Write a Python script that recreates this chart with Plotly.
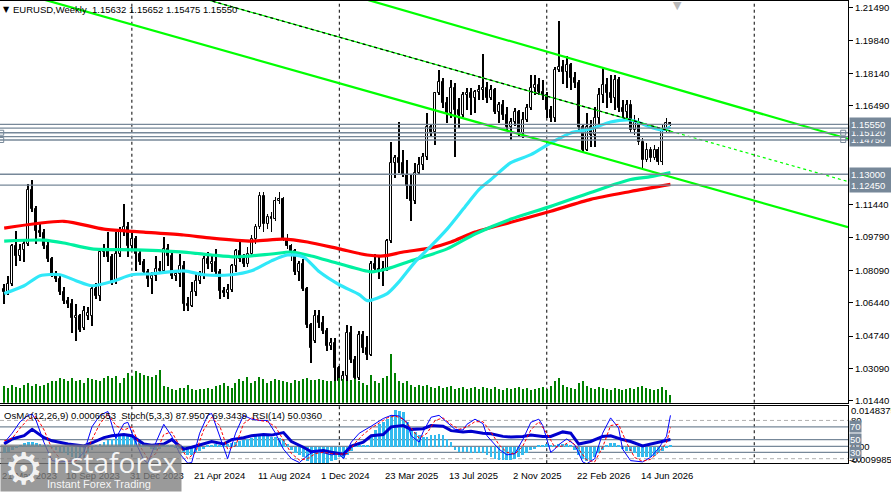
import plotly.graph_objects as go

# ---------------- data ----------------
title_text = "EURUSD,Weekly\u00a0\u00a01.15632 1.15652 1.15475 1.15550"
osc_text = "OsMA(12,26,9) 0.0006653\u00a0\u00a0Stoch(5,3,3) 87.9507 69.3439\u00a0\u00a0RSI(14) 50.0360"

opens = [
    1.0716, 1.0701, 1.0741, 1.0934, 1.0883, 1.0914, 1.0944, 1.1222, 1.1121, 1.1010,
    1.1000, 1.0934, 1.0868, 1.0792, 1.0767, 1.0701, 1.0655, 1.0640, 1.0564, 1.0579,
    1.0514, 1.0574, 1.0579, 1.0716, 1.0681, 1.0903, 1.0919, 1.0878, 1.0752, 1.0893,
    1.1010, 1.1030, 1.0934, 1.0969, 1.0893, 1.0853, 1.0802, 1.0767, 1.0782, 1.0817,
    1.0807, 1.0919, 1.0883, 1.0782, 1.0792, 1.0833, 1.0640, 1.0630, 1.0701, 1.0757,
    1.0782, 1.0868, 1.0843, 1.0853, 1.0802, 1.0706, 1.0696, 1.0711, 1.0833, 1.0908,
    1.0868, 1.0843, 1.0893, 1.0969, 1.1030, 1.1187, 1.1045, 1.1081, 1.1071, 1.1162,
    1.1172, 1.0969, 1.0934, 1.0908, 1.0802, 1.0843, 1.0716, 1.0529, 1.0448, 1.0574,
    1.0539, 1.0498, 1.0422, 1.0438, 1.0311, 1.0245, 1.0271, 1.0488, 1.0351, 1.0260,
    1.0478, 1.0412, 1.0377, 1.0843, 1.0817, 1.0807, 1.0817, 1.0959, 1.1359, 1.1384,
    1.1359, 1.1298, 1.1238, 1.1162, 1.1308, 1.1349, 1.1389, 1.1541, 1.1516, 1.1713,
    1.1769, 1.1663, 1.1612, 1.1739, 1.1627, 1.1602, 1.1703, 1.1713, 1.1688, 1.1719,
    1.1729, 1.1739, 1.1688, 1.1729, 1.1617, 1.1653, 1.1602, 1.1541, 1.1567, 1.1617,
    1.1511, 1.1577, 1.1638, 1.1739, 1.1754, 1.1719, 1.1703, 1.1627, 1.1587, 1.1830,
    1.1850, 1.1820, 1.1860, 1.1789, 1.1764, 1.1541, 1.1425, 1.1541, 1.1501, 1.1587,
    1.1703, 1.1754, 1.1713, 1.1688, 1.1779, 1.1638, 1.1617, 1.1653, 1.1526, 1.1567,
    1.1465, 1.1374, 1.1425, 1.1384, 1.1425, 1.1364, 1.1526, 1.15632,
]
highs = [
    1.0741, 1.0782, 1.0944, 1.1010, 1.0944, 1.0969, 1.1248, 1.1273, 1.1136, 1.1045,
    1.1020, 1.0954, 1.0878, 1.0807, 1.0787, 1.0726, 1.0676, 1.0665, 1.0640, 1.0589,
    1.0630, 1.0625, 1.0736, 1.0746, 1.0919, 1.0944, 1.1005, 1.0893, 1.1005, 1.1030,
    1.1146, 1.1055, 1.1010, 1.0984, 1.0919, 1.0868, 1.0817, 1.0802, 1.0883, 1.0858,
    1.0979, 1.0944, 1.0903, 1.0807, 1.0893, 1.0858, 1.0676, 1.0752, 1.0802, 1.0807,
    1.0883, 1.0903, 1.0883, 1.0919, 1.0817, 1.0726, 1.0741, 1.0843, 1.0919, 1.0954,
    1.0893, 1.0929, 1.0990, 1.1045, 1.1207, 1.1207, 1.1096, 1.1106, 1.1182, 1.1212,
    1.1182, 1.0995, 1.0944, 1.0919, 1.0858, 1.0868, 1.0726, 1.0539, 1.0605, 1.0605,
    1.0574, 1.0514, 1.0463, 1.0463, 1.0321, 1.0296, 1.0529, 1.0524, 1.0372, 1.0498,
    1.0498, 1.0473, 1.0858, 1.0893, 1.0878, 1.0858, 1.0969, 1.1465, 1.1400, 1.1567,
    1.1425, 1.1374, 1.1298, 1.1359, 1.1389, 1.1410, 1.1612, 1.1552, 1.1719, 1.1830,
    1.1789, 1.1693, 1.1779, 1.1764, 1.1688, 1.1719, 1.1739, 1.1739, 1.1729, 1.1754,
    1.1916, 1.1769, 1.1754, 1.1739, 1.1668, 1.1678, 1.1643, 1.1587, 1.1638, 1.1627,
    1.1617, 1.1658, 1.1805, 1.1805, 1.1789, 1.1779, 1.1719, 1.1648, 1.1845, 1.2083,
    1.1881, 1.1906, 1.1870, 1.1820, 1.1779, 1.1552, 1.1612, 1.1577, 1.1643, 1.1739,
    1.1845, 1.1789, 1.1805, 1.1805, 1.1794, 1.1678, 1.1678, 1.1678, 1.1602, 1.1587,
    1.1486, 1.1460, 1.1440, 1.1450, 1.1440, 1.1552, 1.1587, 1.15652,
]
lows = [
    1.0640, 1.0686, 1.0731, 1.0833, 1.0858, 1.0853, 1.0934, 1.1106, 1.0944, 1.0979,
    1.0919, 1.0853, 1.0777, 1.0752, 1.0686, 1.0640, 1.0615, 1.0488, 1.0448, 1.0493,
    1.0503, 1.0554, 1.0524, 1.0665, 1.0655, 1.0878, 1.0853, 1.0736, 1.0741, 1.0878,
    1.0984, 1.0878, 1.0908, 1.0807, 1.0838, 1.0787, 1.0726, 1.0691, 1.0757, 1.0792,
    1.0797, 1.0833, 1.0767, 1.0757, 1.0726, 1.0600, 1.0600, 1.0620, 1.0681, 1.0741,
    1.0767, 1.0817, 1.0802, 1.0792, 1.0665, 1.0671, 1.0665, 1.0701, 1.0802, 1.0853,
    1.0827, 1.0827, 1.0878, 1.0944, 1.1020, 1.1005, 1.1020, 1.1005, 1.1060, 1.1146,
    1.0959, 1.0919, 1.0858, 1.0787, 1.0757, 1.0706, 1.0514, 1.0336, 1.0438, 1.0514,
    1.0483, 1.0397, 1.0402, 1.0245, 1.0225, 1.0225, 1.0245, 1.0336, 1.0235, 1.0250,
    1.0387, 1.0351, 1.0372, 1.0802, 1.0767, 1.0731, 1.0807, 1.0949, 1.1283, 1.1308,
    1.1288, 1.1172, 1.1060, 1.1146, 1.1298, 1.1324, 1.1374, 1.1491, 1.1450, 1.1703,
    1.1638, 1.1562, 1.1587, 1.1389, 1.1536, 1.1592, 1.1627, 1.1602, 1.1612, 1.1678,
    1.1678, 1.1663, 1.1678, 1.1607, 1.1562, 1.1577, 1.1526, 1.1476, 1.1546, 1.1496,
    1.1486, 1.1567, 1.1627, 1.1703, 1.1703, 1.1678, 1.1587, 1.1567, 1.1567, 1.1820,
    1.1759, 1.1739, 1.1729, 1.1739, 1.1526, 1.1410, 1.1420, 1.1440, 1.1440, 1.1541,
    1.1663, 1.1638, 1.1663, 1.1627, 1.1617, 1.1587, 1.1587, 1.1511, 1.1501, 1.1450,
    1.1334, 1.1364, 1.1364, 1.1374, 1.1349, 1.1349, 1.1516, 1.15475,
]
closes = [
    1.0701, 1.0741, 1.0934, 1.0883, 1.0914, 1.0944, 1.1222, 1.1121, 1.1010, 1.1000,
    1.0934, 1.0868, 1.0792, 1.0767, 1.0701, 1.0655, 1.0640, 1.0564, 1.0579, 1.0503,
    1.0600, 1.0594, 1.0716, 1.0681, 1.0903, 1.0919, 1.0878, 1.0752, 1.0893, 1.1010,
    1.1030, 1.0934, 1.0969, 1.0893, 1.0853, 1.0802, 1.0767, 1.0782, 1.0817, 1.0807,
    1.0919, 1.0883, 1.0782, 1.0792, 1.0833, 1.0640, 1.0630, 1.0701, 1.0757, 1.0782,
    1.0868, 1.0843, 1.0853, 1.0802, 1.0706, 1.0696, 1.0711, 1.0833, 1.0908, 1.0868,
    1.0843, 1.0893, 1.0969, 1.1030, 1.1187, 1.1045, 1.1081, 1.1071, 1.1162, 1.1172,
    1.0969, 1.0934, 1.0908, 1.0802, 1.0843, 1.0716, 1.0529, 1.0412, 1.0574, 1.0539,
    1.0498, 1.0422, 1.0438, 1.0311, 1.0245, 1.0271, 1.0488, 1.0351, 1.0260, 1.0478,
    1.0412, 1.0377, 1.0843, 1.0817, 1.0807, 1.0817, 1.0959, 1.1359, 1.1384, 1.1359,
    1.1298, 1.1238, 1.1162, 1.1308, 1.1349, 1.1389, 1.1541, 1.1516, 1.1713, 1.1769,
    1.1663, 1.1612, 1.1739, 1.1627, 1.1602, 1.1703, 1.1713, 1.1688, 1.1719, 1.1729,
    1.1739, 1.1688, 1.1729, 1.1617, 1.1653, 1.1602, 1.1541, 1.1567, 1.1617, 1.1511,
    1.1577, 1.1638, 1.1739, 1.1754, 1.1719, 1.1703, 1.1627, 1.1587, 1.1830, 1.1850,
    1.1820, 1.1860, 1.1789, 1.1764, 1.1541, 1.1425, 1.1541, 1.1501, 1.1587, 1.1703,
    1.1754, 1.1713, 1.1688, 1.1779, 1.1638, 1.1617, 1.1653, 1.1526, 1.1567, 1.1465,
    1.1374, 1.1425, 1.1384, 1.1425, 1.1364, 1.1526, 1.1562, 1.15550,
]
volumes = [
    170, 150, 180, 160, 150, 180, 200, 170, 190, 170,
    180, 200, 220, 220, 250, 240, 220, 250, 220, 230,
    200, 250, 240, 230, 220, 250, 270, 250, 270, 200,
    250, 300, 270, 320, 300, 280, 270, 260, 280, 330,
    170, 160, 140, 130, 150, 150, 180, 140, 130, 140,
    140, 150, 140, 170, 180, 200, 170, 150, 200, 240,
    220, 260, 200, 220, 260, 240, 200, 220, 240, 230,
    220, 210, 200, 230, 220, 240, 250, 230, 230, 240,
    230, 220, 220, 220, 250, 240, 220, 230, 240, 220,
    200, 180, 280, 220, 200, 250, 270, 490, 300, 220,
    200, 220, 180, 160, 180, 170, 180, 160, 150, 170,
    150, 160, 170, 140, 150, 160, 140, 150, 160, 140,
    160, 150, 140, 160, 140, 130, 150, 140, 150, 160,
    140, 150, 130, 140, 150, 160, 140, 170, 220, 250,
    180, 160, 150, 140, 200, 220, 170, 150, 140, 160,
    150, 140, 130, 150, 140, 130, 140, 150, 140, 160,
    170, 150, 140, 130, 140, 160, 130, 80,
]
osma = [
    -0.0026, -0.0022, -0.0013, -0.0004, 0.0009, 0.0017, 0.0022, 0.0022, 0.0017, 0.0013,
    0.0009, 0.0004, -0.0004, -0.0013, -0.0022, -0.0030, -0.0035, -0.0044, -0.0052, -0.0052,
    -0.0048, -0.0030, -0.0013, 0.0004, 0.0013, 0.0022, 0.0030, 0.0035, 0.0044, 0.0048,
    0.0052, 0.0048, 0.0044, 0.0035, 0.0022, 0.0013, 0.0004, -0.0009, -0.0013, -0.0009,
    0.0004, 0.0009, 0.0004, -0.0004, -0.0009, -0.0022, -0.0035, -0.0035, -0.0026, -0.0017,
    -0.0009, 0.0004, 0.0009, 0.0013, 0.0009, 0.0009, 0.0013, 0.0017, 0.0022, 0.0026,
    0.0030, 0.0035, 0.0039, 0.0048, 0.0052, 0.0052, 0.0048, 0.0044, 0.0044, 0.0039,
    0.0030, 0.0013, -0.0013, -0.0026, -0.0035, -0.0044, -0.0061, -0.0078, -0.0087, -0.0087,
    -0.0078, -0.0070, -0.0065, -0.0057, -0.0044, -0.0048, -0.0035, -0.0017, 0.0009, 0.0004,
    0.0009, 0.0004, 0.0044, 0.0074, 0.0100, 0.0109, 0.0122, 0.0139, 0.0161, 0.0157,
    0.0152, 0.0109, 0.0078, 0.0065, 0.0052, 0.0044, 0.0044, 0.0052, 0.0052, 0.0057,
    0.0052, 0.0035, 0.0022, -0.0013, -0.0022, -0.0022, -0.0022, -0.0026, -0.0030, -0.0030,
    -0.0030, -0.0035, -0.0044, -0.0052, -0.0057, -0.0057, -0.0057, -0.0057, -0.0052, -0.0044,
    -0.0035, -0.0030, -0.0013, -0.0009, 0.0009, 0.0009, 0.0013, 0.0009, 0.0009, 0.0013,
    0.0013, 0.0013, 0.0009, -0.0013, -0.0035, -0.0052, -0.0061, -0.0057, -0.0044, -0.0030,
    -0.0013, 0.0009, 0.0017, 0.0017, 0.0009, -0.0009, -0.0017, -0.0017, -0.0030, -0.0044,
    -0.0044, -0.0044, -0.0044, -0.0039, -0.0030, -0.0017, -0.0004, 0.0007,
]
bars = list(range(len(closes)))

# moving averages, read at sample bars
ma_red_bars = [0, 15, 25, 35, 45, 52, 62, 70, 76, 84, 91, 95, 100, 107, 112, 118, 127, 137, 147, 157, 167]
ma_red_vals = [1.1025, 1.1060, 1.1020, 1.1005, 1.0990, 1.0974, 1.0959, 1.0969, 1.0954, 1.0919, 1.0888,
               1.0883, 1.0903, 1.0924, 1.0954, 1.1005, 1.1055, 1.1111, 1.1172, 1.1212, 1.1248]
ma_green_bars = [0, 10, 15, 22, 33, 45, 52, 58, 67, 72, 77, 84, 92, 96, 102, 111, 118, 127, 137, 147, 157, 162, 167]
ma_green_vals = [1.0959, 1.0964, 1.0949, 1.0919, 1.0914, 1.0903, 1.0888, 1.0878, 1.0893, 1.0903, 1.0883, 1.0843,
                 1.0802, 1.0817, 1.0858, 1.0919, 1.0995, 1.1071, 1.1136, 1.1207, 1.1273, 1.1288, 1.1308]
ma_cyan_bars = [0, 5, 9, 14, 18, 22, 27, 32, 37, 45, 50, 57, 62, 67, 71, 75, 79, 84, 89, 91, 96, 99, 103,
                107, 111, 115, 119, 122, 127, 132, 137, 142, 147, 152, 157, 162, 165, 167]
ma_cyan_vals = [1.0691, 1.0731, 1.0782, 1.0787, 1.0757, 1.0731, 1.0752, 1.0787, 1.0792, 1.0807, 1.0787, 1.0787,
                1.0807, 1.0858, 1.0888, 1.0878, 1.0802, 1.0736, 1.0686, 1.0655, 1.0691, 1.0752, 1.0853,
                1.0934, 1.1020, 1.1121, 1.1222, 1.1273, 1.1359, 1.1400, 1.1460, 1.1511, 1.1531, 1.1567,
                1.1577, 1.1541, 1.1526, 1.1541]

# oscillators
stoch_bars = [0, 2, 4, 6, 7, 8, 10, 12, 14, 16, 18, 20, 22, 24, 26, 28, 30, 31, 33, 35, 36, 38, 40, 42, 44,
              46, 47, 49, 51, 52, 54, 56, 58, 60, 62, 64, 66, 68, 70, 72, 74, 76, 78, 80, 82, 84, 85, 87, 89,
              92, 95, 97, 99, 101, 102, 104, 105, 107, 109, 111, 113, 115, 116, 118, 120, 121, 124, 126, 128,
              130, 132, 134, 135, 137, 138, 139, 141, 143, 145, 146, 148, 150, 152, 154, 155, 157, 160, 162,
              164, 166, 167]
stoch_main = [45, 60, 78, 88, 90, 80, 45, 17, 15, 16, 17, 30, 70, 88, 94, 52, 75, 77, 45, 18, 13, 45, 74, 55, 28,
              13, 14, 60, 88, 91, 55, 20, 60, 88, 82, 80, 80, 60, 35, 20, 14, 25, 33, 30, 26, 28, 20, 46, 60,
              71, 83, 88, 87, 77, 56, 46, 62, 85, 88, 77, 66, 65, 74, 82, 75, 56, 35, 26, 28,
              50, 77, 82, 72, 30, 35, 42, 51, 42, 15, 12, 20, 60, 84, 68, 35, 17, 15, 22,
              36, 55, 88]
signal_bars = [0, 2, 4, 6, 8, 10, 12, 14, 16, 18, 20, 22, 24, 26, 28, 30, 32, 34, 36, 38, 40, 42, 44, 46, 48,
               50, 52, 54, 56, 58, 60, 62, 64, 66, 68, 70, 72, 74, 76, 78, 80, 82, 84, 86, 88, 90, 92, 94, 96,
               98, 100, 102, 104, 106, 108, 110, 112, 114, 116, 118, 120, 122, 124, 126, 128, 130, 132, 134,
               136, 138, 140, 142, 144, 146, 148, 150, 152, 154, 156, 158, 160, 162, 164, 166, 167]
stoch_signal = [48, 52, 68, 82, 86, 65, 35, 20, 16, 17, 22, 50, 75, 90, 72, 65, 70, 40, 20, 28, 58, 62, 40, 20, 30,
                65, 85, 72, 35, 40, 75, 84, 80, 78, 70, 48, 28, 18, 20, 28, 30, 28, 27, 28, 45, 58, 68, 76, 84,
                87, 82, 68, 52, 60, 80, 84, 74, 66, 70, 78, 78, 62, 42, 30, 27, 40, 65, 78,
                60, 38, 40, 48, 35, 18, 15, 38, 72, 74, 45, 22, 16, 19, 30, 45, 69]
rsi_bars = [0, 2, 5, 7, 10, 12, 16, 20, 22, 25, 27, 30, 32, 35, 37, 40, 42, 45, 47, 50, 52, 55, 57, 60, 62, 65,
            67, 70, 72, 75, 77, 80, 82, 85, 87, 90, 92, 95, 97, 100, 102, 105, 107, 110, 112, 115, 117, 120,
            122, 125, 127, 130, 132, 135, 137, 140, 142, 144, 147, 150, 152, 155, 157, 160, 162, 165, 167]
rsi_vals = [43, 51, 56, 66, 53, 48, 43, 40, 45, 53, 56, 58, 56, 43, 41, 43, 50, 35, 38, 43, 47, 43, 50, 53, 56, 58,
            57, 61, 47, 38, 31, 33, 30, 27, 40, 46, 56, 58, 70, 72, 66, 67, 72, 71, 64, 62, 63, 60,
            59, 55, 54, 55, 57, 55, 55, 62, 60, 43, 47, 55, 56, 50, 47, 40, 43, 48, 50]
stoch_levels = [80, 20]
rsi_levels = [70, 50, 30]

# chart objects
price_levels = [1.1555, 1.1535, 1.1512, 1.1492, 1.1475, 1.1300, 1.1245]
level_labels = [1.1475, 1.1512, 1.1555, 1.1300, 1.1245]
handle_bars = [-0.75, -0.75, 210.3, 210.3]
handle_vals = [1.1512, 1.1475, 1.1512, 1.1475]
price_ticks = [1.21490, 1.19840, 1.18140, 1.16490, 1.11440, 1.09790, 1.08090, 1.06440, 1.04740, 1.03090, 1.01440]
channel_upper_bars = [85, 211.5]
channel_upper_vals = [1.2226, 1.1481]
channel_lower_bars = [5, 211.5]
channel_lower_vals = [1.2220, 1.1030]
channel_mid_bars = [45, 167, 211.5]
channel_mid_vals = [1.2225, 1.1520, 1.1263]
grid_bars = [32, 84, 136, 188]
date_bars = [-1, 15, 31, 47, 63, 79, 95, 111, 127, 143, 159]
date_labels = ["21 May 2023", "10 Sep 2023", "31 Dec 2023", "21 Apr 2024", "11 Aug 2024", "1 Dec 2024",
               "23 Mar 2025", "13 Jul 2025", "2 Nov 2025", "22 Feb 2026", "14 Jun 2026"]

# ---------------- figure ----------------
W, H = 891, 495
FONT = "Liberation Sans, Arial, sans-serif"


def py(px):
    return (H - px) / H


fig = go.Figure()

fig.add_trace(go.Bar(x=bars, y=volumes, width=0.3, marker=dict(color="#008000", line=dict(width=0)),
                     xaxis="x", yaxis="y3", hoverinfo="skip"))

# candles drawn as wick bars + body bars (MT4 style: white up bodies, black down bodies)
wick_base = lows
wick_len = [h - l for h, l in zip(highs, lows)]
fig.add_trace(go.Bar(x=bars, y=wick_len, base=wick_base, width=0.22, marker=dict(color="black", line=dict(width=0)),
                     xaxis="x", yaxis="y", hoverinfo="skip"))
up = [i for i in bars if closes[i] >= opens[i]]
dn = [i for i in bars if closes[i] < opens[i]]
fig.add_trace(go.Bar(x=up, y=[closes[i] - opens[i] for i in up], base=[opens[i] for i in up], width=0.5,
                     marker=dict(color="white", line=dict(color="black", width=1)),
                     xaxis="x", yaxis="y", hoverinfo="skip"))
fig.add_trace(go.Bar(x=dn, y=[opens[i] - closes[i] for i in dn], base=[closes[i] for i in dn], width=0.5,
                     marker=dict(color="black", line=dict(color="black", width=1)),
                     xaxis="x", yaxis="y", hoverinfo="skip"))

for bx, vy, col in [(ma_red_bars, ma_red_vals, "#ff0000"),
                    (ma_green_bars, ma_green_vals, "#00f0a0"),
                    (ma_cyan_bars, ma_cyan_vals, "#30e8f8")]:
    fig.add_trace(go.Scatter(x=bx, y=vy, mode="lines", line=dict(color=col, width=3.2, shape="spline", smoothing=0.7),
                             xaxis="x", yaxis="y", hoverinfo="skip"))

fig.add_trace(go.Scatter(x=channel_upper_bars, y=channel_upper_vals, mode="lines",
                         line=dict(color="#00ff00", width=2.2), xaxis="x", yaxis="y", hoverinfo="skip"))
fig.add_trace(go.Scatter(x=channel_lower_bars, y=channel_lower_vals, mode="lines",
                         line=dict(color="#00ff00", width=2.2), xaxis="x", yaxis="y", hoverinfo="skip"))
fig.add_trace(go.Scatter(x=channel_mid_bars[:2], y=channel_mid_vals[:2], mode="lines",
                         line=dict(color="#00ff00", width=1.2), xaxis="x", yaxis="y", hoverinfo="skip"))
fig.add_trace(go.Scatter(x=channel_mid_bars[:2], y=channel_mid_vals[:2], mode="lines",
                         line=dict(color="black", width=1.2, dash="3px,3px"), xaxis="x", yaxis="y", hoverinfo="skip"))
fig.add_trace(go.Scatter(x=channel_mid_bars[1:], y=channel_mid_vals[1:], mode="lines",
                         line=dict(color="#00ff00", width=1.2, dash="3px,3px"), xaxis="x", yaxis="y", hoverinfo="skip"))
fig.add_trace(go.Scatter(x=handle_bars, y=handle_vals, mode="markers",
                         marker=dict(symbol="square", size=5, color="white", line=dict(color="#778899", width=1)),
                         xaxis="x", yaxis="y", hoverinfo="skip", cliponaxis=False))

# oscillator window
fig.add_trace(go.Bar(x=bars, y=osma, width=0.7, marker=dict(color="#33bbee", line=dict(width=0)),
                     xaxis="x2", yaxis="y2", hoverinfo="skip"))
fig.add_trace(go.Scatter(x=rsi_bars, y=rsi_vals, mode="lines", line=dict(color="#0000cd", width=3),
                         xaxis="x2", yaxis="y4", hoverinfo="skip"))
fig.add_trace(go.Scatter(x=stoch_bars, y=stoch_main, mode="lines", line=dict(color="#0000ff", width=1),
                         xaxis="x2", yaxis="y4", hoverinfo="skip"))
fig.add_trace(go.Scatter(x=signal_bars, y=stoch_signal, mode="lines",
                         line=dict(color="#ff0000", width=1, dash="3px,2px"),
                         xaxis="x2", yaxis="y4", hoverinfo="skip"))

shapes = []
for b in grid_bars:
    for y0, y1 in [(py(405), 1), (py(466), py(408))]:
        shapes.append(dict(type="line", xref="x", yref="paper", x0=b, x1=b, y0=y0, y1=y1,
                           line=dict(color="black", width=1, dash="3px,3px"), layer="below"))
for lv in price_levels:
    shapes.append(dict(type="line", xref="paper", yref="y", x0=0, x1=1, y0=lv, y1=lv,
                       line=dict(color="#778899", width=1.3), layer="above"))
for lv in stoch_levels:
    shapes.append(dict(type="line", xref="paper", yref="y4", x0=0, x1=1, y0=lv, y1=lv,
                       line=dict(color="#b0b0b0", width=1, dash="4px,3px"), layer="below"))
for lv in rsi_levels:
    shapes.append(dict(type="line", xref="paper", yref="y4", x0=0, x1=1, y0=lv, y1=lv,
                       line=dict(color="#778899", width=1.2), layer="below"))
shapes.append(dict(type="line", xref="paper", yref="y2", x0=0, x1=1, y0=0, y1=0,
                   line=dict(color="#778899", width=1.2), layer="below"))

ann = []
ann.append(dict(text="\u25bc", x=7 / W, y=py(9), xref="paper", yref="paper", xanchor="center", yanchor="middle",
                showarrow=False, font=dict(size=8, color="black", family="DejaVu Sans")))
ann.append(dict(text=title_text, x=12 / W, y=py(8.5), xref="paper", yref="paper", xanchor="left", yanchor="middle",
                showarrow=False, font=dict(size=9.5, color="black", family=FONT)))
ann.append(dict(text="\u25bc", x=168.8, y=1, xref="x", yref="paper", xanchor="center", yanchor="top", yshift=4,
                showarrow=False, font=dict(size=11, color="#b8b8b8", family="DejaVu Sans")))
ann.append(dict(text=osc_text, x=2 / W, y=py(417.5), xref="paper", yref="paper", xanchor="left", yanchor="middle",
                showarrow=False, font=dict(size=9.5, color="black", family=FONT)))
for lv in level_labels:
    ann.append(dict(text=f"{lv:.5f}", x=1, y=lv, xref="paper", yref="y", xanchor="left", yanchor="middle",
                    xshift=1, showarrow=False, bgcolor="#778899", borderpad=1, width=40, align="left",
                    font=dict(size=9.5, color="white", family=FONT)))
# oscillator scale labels
ann.append(dict(text="0.00", x=1, y=0, xref="paper", yref="y2", xanchor="left", yanchor="middle", xshift=1,
                showarrow=False, font=dict(size=9.5, color="black", family=FONT)))
ann.append(dict(text="-0.009985", x=1, y=py(462.5), xref="paper", yref="paper", xanchor="left", yanchor="middle",
                xshift=-1, showarrow=False, font=dict(size=9.5, color="black", family=FONT)))
for lv in stoch_levels:
    ann.append(dict(text=str(lv), x=1, y=lv, xref="paper", yref="y4", xanchor="left", yanchor="middle", xshift=1,
                    showarrow=False, font=dict(size=9.5, color="black", family=FONT)))
ann.append(dict(text="0.0148375", x=1, y=py(413), xref="paper", yref="paper", xanchor="left", yanchor="middle",
                xshift=1, showarrow=False, font=dict(size=9.5, color="black", family=FONT)))
for lv in rsi_levels:
    ann.append(dict(text=str(lv), x=1, y=lv, xref="paper", yref="y4", xanchor="left", yanchor="middle", xshift=1,
                    showarrow=False, bgcolor="#778899", borderpad=0,
                    font=dict(size=9.5, color="white", family=FONT)))
# date labels
for b, lab in zip(date_bars, date_labels):
    ann.append(dict(text=lab, x=b, y=py(478.5), xref="x", yref="paper", xanchor="left", yanchor="middle",
                    showarrow=False, font=dict(size=9.5, color="black", family=FONT)))
# watermark
ann.append(dict(text=" ", x=0, y=0, xref="paper", yref="paper", xanchor="left", yanchor="bottom",
                width=180, height=46, bgcolor="rgba(125,125,125,0.78)", borderpad=0, showarrow=False))
ann.append(dict(text="\u2699", x=25 / W, y=py(471), xref="paper", yref="paper", xanchor="center", yanchor="middle",
                showarrow=False, font=dict(size=44, color="rgba(255,255,255,0.9)", family="DejaVu Sans")))
ann.append(dict(text="instaforex", x=46 / W, y=py(465), xref="paper", yref="paper", xanchor="left",
                yanchor="middle", showarrow=False,
                font=dict(size=28, color="rgba(255,255,255,0.92)", family="Open Sans")))
ann.append(dict(text="Instant Forex Trading", x=47 / W, y=py(487), xref="paper", yref="paper", xanchor="left",
                yanchor="middle", showarrow=False,
                font=dict(size=11, color="rgba(255,255,255,0.92)", family=FONT)))

fig.update_layout(
    width=W, height=H, margin=dict(l=0, r=43, t=0, b=0),
    paper_bgcolor="white", plot_bgcolor="white", showlegend=False, barmode="overlay", bargap=0,
    font=dict(family=FONT, size=9.5, color="black"),
    xaxis=dict(domain=[0, 1], range=[-1.05, 211.5], anchor="y", showline=True, linecolor="black", linewidth=1,
               mirror=True, showticklabels=False, ticks="", showgrid=False, zeroline=False,
               rangeslider=dict(visible=False)),
    yaxis=dict(domain=[py(405), 1], range=[1.01338, 1.21844], side="right", anchor="x", showline=True,
               linecolor="black", linewidth=1, ticks="outside", ticklen=4, tickcolor="black",
               tickvals=price_ticks, ticktext=[f"{v:.5f}" for v in price_ticks], showgrid=False,
               zeroline=False, tickfont=dict(size=9.5, family=FONT, color="black")),
    yaxis3=dict(overlaying="y", range=[0, 4050], visible=False),
    xaxis2=dict(domain=[0, 1], matches="x", anchor="y2", showline=True, linecolor="black", linewidth=1,
                mirror=True, showticklabels=False, ticks="", showgrid=False, zeroline=False),
    yaxis2=dict(domain=[py(466), py(408)], range=[-0.0074, 0.0178], side="right", anchor="x2", showline=True,
                linecolor="black", linewidth=1, showticklabels=False, ticks="", showgrid=False, zeroline=False),
    yaxis4=dict(overlaying="y2", range=[12.9, 103.1], visible=False),
    shapes=shapes, annotations=ann,
)

fig.write_html("out.html", config={"displayModeBar": False},
               post_script="document.body.style.margin='0';document.body.style.overflow='hidden';")
